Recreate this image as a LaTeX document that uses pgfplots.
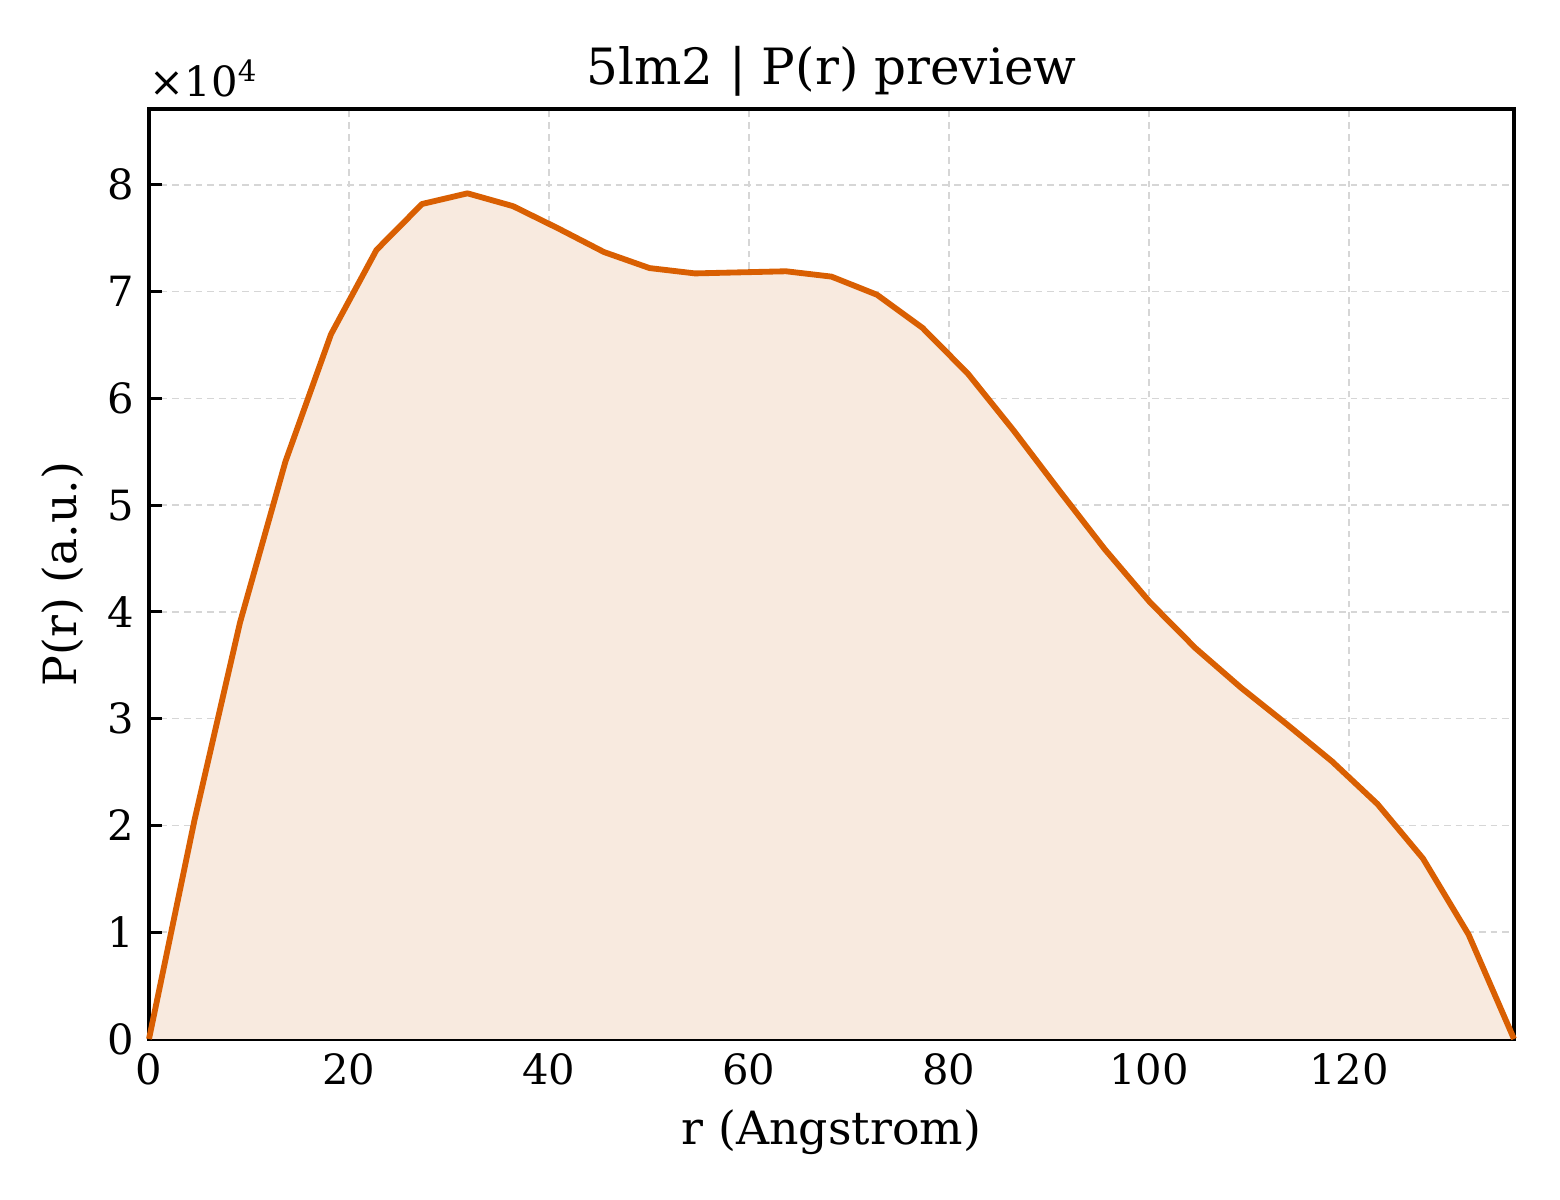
\documentclass[border=0pt]{standalone}
\usepackage{pgfplots}
\pgfplotsset{compat=1.18}
\usepackage{fontspec}
\setmainfont{DejaVu Serif}
\definecolor{lineor}{HTML}{D95F02}
\definecolor{fillor}{HTML}{F8EADF}
\definecolor{gridc}{HTML}{D6D6D6}
\pgfplotstableread{
r y
0 0
4.55 20500
9.1 39000
13.65 54100
18.2 66000
22.75 73900
27.3 78200
31.85 79200
36.4 78000
40.95 75900
45.5 73700
50.05 72200
54.6 71700
59.15 71800
63.7 71900
68.25 71400
72.8 69700
77.35 66600
81.9 62300
86.45 57000
91 51400
95.55 45900
100.1 40900
104.65 36600
109.2 32900
113.75 29500
118.3 26000
122.85 22000
127.4 16900
131.95 9800
136.5 0
}\prdata
\begin{document}
\begin{tikzpicture}
\path[use as bounding box] (-35.76pt,-38.64pt) rectangle (338.64pt,249.36pt);
\begin{axis}[
  at={(0,0)}, anchor=south west,
  scale only axis, width=327.6pt, height=223.2pt,
  xmin=0, xmax=136.5, ymin=0, ymax=87100,
  xtick={0,20,...,120},
  ytick={0,10000,...,80000},
  scaled y ticks=manual:{}{\pgfmathparse{#1/10000}},
  yticklabel style={/pgf/number format/fixed},
  /pgf/number format/assume math mode=true,
  tick align=inside, xtick pos=bottom, ytick pos=left,
  major tick length=3.2pt,
  every tick/.style={black, line width=0.7pt},
  axis line style={line width=0.8pt},
  grid=major,
  major grid style={gridc, dash pattern=on 1.6pt off 1.2pt, line width=0.35pt},
  ticklabel style={font=\fontsize{10}{12}\selectfont},
  xlabel={r (Angstrom)}, ylabel={P(r) (a.u.)},
  label style={font=\fontsize{11}{13}\selectfont},
  title={5lm2 | P(r) preview},
  title style={font=\fontsize{12}{14}\selectfont, yshift=-6.5pt},
  xlabel style={yshift=1pt},
  ylabel style={yshift=-1pt},
  clip=false,
]
\addplot[draw=none, fill=fillor] table[x=r,y=y] {\prdata} \closedcycle;
\addplot[lineor, line width=1.4pt, line join=round] table[x=r,y=y] {\prdata};
\node[anchor=south west, inner sep=0pt, font=\fontsize{10}{12}\selectfont] at (axis description cs:0,1.012) {×10\textsuperscript{4}};
\end{axis}
\end{tikzpicture}
\end{document}
